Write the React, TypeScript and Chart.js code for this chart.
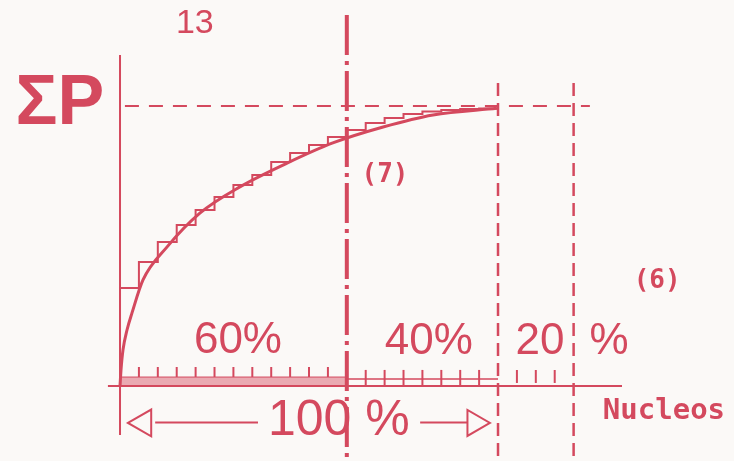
import React, { useEffect, useRef } from "react";
import { Chart, registerables } from "chart.js";

Chart.register(...registerables);

// ---------- data ----------
// share of cores (x, %) at which each step of the cumulative ΣP staircase starts
const stepCores = [0, 5, 10, 15, 20, 25, 30, 35, 40, 45, 50, 55, 60, 65, 70, 75, 80, 85, 90, 95, 100];
// cumulative ΣP share (%) reached at each step
const stepShare = [0, 35.0, 44.3, 51.4, 57.5, 62.9, 67.5, 71.8, 75.4, 80.0, 83.2, 86.1, 88.9, 91.4, 93.9, 95.7, 97.1, 98.0, 98.6, 98.9, 99.1];
// smooth cumulative curve
const curveCores = [0, 0.26, 0.79, 1.85, 3.17, 6.08, 12.4, 21.2, 31.7, 44.2, 56.3, 69.6, 82.8, 99.7];
const curveShare = [0, 5.7, 12.9, 20.0, 26.1, 37.9, 49.6, 61.8, 71.1, 79.6, 86.8, 92.5, 96.8, 99.2];
// reference levels
const sigmaP = 100;
const split60 = 60;
const split100 = 100;
const split120 = 120;
// axis tick marks (cores, %)
const ticksA = [5, 10, 15, 20, 25, 30, 35, 40, 45, 50, 55];
const ticksB = [65, 70, 75, 80, 85, 90, 95];
const ticksC = [105, 110, 115];
// text labels
const labelTexts = ["13", "ΣP", "(7)", "(6)", "60%", "40%", "20", "%", "100 %", "Nucleos"];

// ---------- layout (drawing units) ----------
const X_MIN = -31.75;
const X_MAX = 162.43;
const Y_MIN = -26.79;
const Y_MAX = 137.86;

const INK = "#d4495e";
const PAPER = "#fbf9f7";

type Lbl = { t: string; x: number; y: number; font: string };
const labelPlacement: Lbl[] = [
  { t: labelTexts[0], x: 19.8, y: 129.6, font: "34px 'Liberation Sans', sans-serif" },
  { t: labelTexts[1], x: -15.9, y: 100.6, font: "bold 70px 'Liberation Sans', sans-serif" },
  { t: labelTexts[2], x: 70.1, y: 75.4, font: "bold 26px 'DejaVu Sans Mono', monospace" },
  { t: labelTexts[3], x: 142.1, y: 37.5, font: "bold 26px 'DejaVu Sans Mono', monospace" },
  { t: labelTexts[4], x: 31.2, y: 16.1, font: "44px 'Liberation Sans', sans-serif" },
  { t: labelTexts[5], x: 81.7, y: 15.7, font: "44px 'Liberation Sans', sans-serif" },
  { t: labelTexts[6], x: 111.1, y: 15.7, font: "44px 'Liberation Sans', sans-serif" },
  { t: labelTexts[7], x: 129.4, y: 15.7, font: "44px 'Liberation Sans', sans-serif" },
  { t: labelTexts[8], x: 57.9, y: -12.5, font: "50px 'Liberation Sans', sans-serif" },
  { t: labelTexts[9], x: 143.9, y: -9.0, font: "bold 29px 'DejaVu Sans Mono', monospace" },
];

const seg = (x1: number, y1: number, x2: number, y2: number) => [
  { x: x1, y: y1 },
  { x: x2, y: y2 },
];

const lineDs = (data: any[], extra: any = {}) => ({
  type: "scatter" as const,
  data,
  showLine: true,
  borderColor: INK,
  borderWidth: 2,
  pointRadius: 0,
  fill: false,
  ...extra,
});

const tickDs = (xs: number[], yc: number, r: number) => ({
  type: "scatter" as const,
  data: xs.map((x) => ({ x, y: yc })),
  showLine: false,
  pointStyle: "line",
  pointRotation: 90,
  pointRadius: r,
  pointBorderWidth: 2,
  borderColor: INK,
  pointBorderColor: INK,
  pointBackgroundColor: INK,
});

const textPlugin = {
  id: "labels",
  afterDatasetsDraw(chart: any) {
    const { ctx, scales } = chart;
    ctx.save();
    ctx.fillStyle = INK;
    ctx.textAlign = "center";
    ctx.textBaseline = "middle";
    for (const l of labelPlacement) {
      ctx.font = l.font;
      ctx.fillText(l.t, scales.x.getPixelForValue(l.x), scales.y.getPixelForValue(l.y));
    }
    ctx.restore();
  },
};

const paperPlugin = {
  id: "paper",
  beforeDraw(chart: any) {
    const { ctx, width, height } = chart;
    ctx.save();
    ctx.fillStyle = PAPER;
    ctx.fillRect(0, 0, width, height);
    ctx.restore();
  },
};

export default function App() {
  const ref = useRef<HTMLCanvasElement | null>(null);

  useEffect(() => {
    if (!ref.current) return;
    const bandH = 3.2;
    const datasets: any[] = [
      // thick hatched band 0–60 %
      lineDs(seg(0, bandH, split60, bandH), {
        fill: "origin",
        backgroundColor: "rgba(212,73,94,0.45)",
        borderWidth: 1,
      }),
      // double line 60–100 %
      lineDs(seg(split60, 2.5, split100, 2.5), { borderWidth: 1.5 }),
      // x axis
      lineDs(seg(-3.2, 0, 132.8, 0), { borderWidth: 2 }),
      // y axis
      lineDs(seg(0, -17.5, 0, 118.2), { borderWidth: 2 }),
      // ΣP dashed level
      lineDs(seg(1.3, sigmaP, 124.3, sigmaP), { borderDash: [14, 10], borderWidth: 2 }),
      // 100 % dashed
      lineDs(seg(split100, 108.2, split100, Y_MIN), { borderDash: [13, 7], borderWidth: 2.5 }),
      // 120 % dashed
      lineDs(seg(split120, 108.2, split120, Y_MIN), { borderDash: [13, 7], borderWidth: 2.5 }),
      // 60 % dash-dot
      lineDs(seg(split60, 132.5, split60, Y_MIN), { borderDash: [40, 6, 4, 6], borderWidth: 4 }),
      // smooth curve
      lineDs(
        curveCores.map((x, i) => ({ x, y: curveShare[i] })),
        { borderWidth: 3, cubicInterpolationMode: "monotone" }
      ),
      // staircase (vertical rise first, then horizontal run)
      lineDs(
        stepCores.map((x, i) => ({ x, y: stepShare[i] })),
        { borderWidth: 2, stepped: "after" }
      ),
      tickDs(ticksA, 5.0, 5),
      tickDs(ticksB, 2.7, 8.5),
      tickDs(ticksC, 3.4, 6.5),
      // arrow shafts
      lineDs(seg(9.3, -13, 36.5, -13), { borderWidth: 2 }),
      lineDs(seg(79.4, -13, 91.8, -13), { borderWidth: 2 }),
      // arrow heads
      {
        type: "scatter",
        data: [{ x: 6.2, y: -13.2 }],
        pointStyle: "triangle",
        pointRotation: -90,
        pointRadius: 15.5,
        pointBorderWidth: 2,
        pointBorderColor: INK,
        pointBackgroundColor: PAPER,
      },
      {
        type: "scatter",
        data: [{ x: 93.9, y: -13.2 }],
        pointStyle: "triangle",
        pointRotation: 90,
        pointRadius: 15,
        pointBorderWidth: 2,
        pointBorderColor: INK,
        pointBackgroundColor: PAPER,
      },
    ];

    const chart = new Chart(ref.current, {
      type: "scatter",
      data: { datasets },
      options: {
        animation: false,
        responsive: false,
        devicePixelRatio: 1,
        events: [],
        layout: { padding: 0, autoPadding: false },
        plugins: { legend: { display: false }, tooltip: { enabled: false } },
        scales: {
          x: { type: "linear", display: false, min: X_MIN, max: X_MAX },
          y: { type: "linear", display: false, min: Y_MIN, max: Y_MAX },
        },
      },
      plugins: [paperPlugin, textPlugin],
    } as any);
    return () => chart.destroy();
  }, []);

  return (
    <div style={{ position: "fixed", left: 0, top: 0, width: 734, height: 461, background: PAPER }}>
      <canvas ref={ref} width={734} height={461} style={{ display: "block" }} />
    </div>
  );
}
